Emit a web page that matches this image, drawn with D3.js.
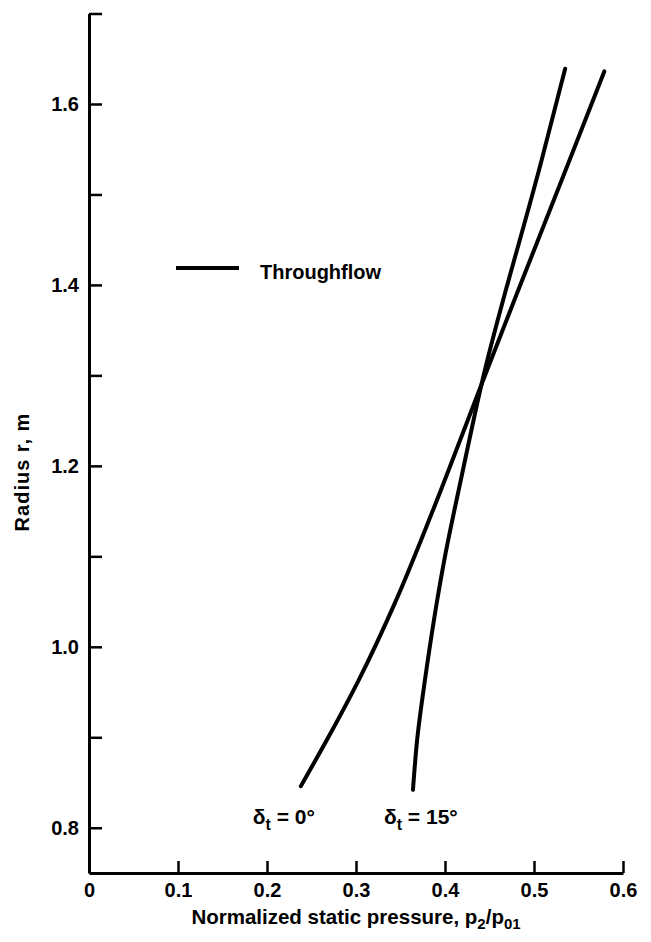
<!DOCTYPE html>
<html>
<head>
<meta charset="utf-8">
<script src="https://cdn.jsdelivr.net/npm/d3@7"></script>
<style>
  body { margin: 0; background: #fff; }
  svg text { font-family: "Liberation Sans", Arial, sans-serif; font-weight: bold; fill: #000; }
</style>
</head>
<body>
<div class="chartContainer"></div>
<script>
// pressure ratio p2/p01 vs radius r (m)
const throughflowX = [0.238, 0.2689, 0.3032, 0.3444, 0.3861, 0.441, 0.4806, 0.540, 0.579];
const throughflowR = [0.846, 0.900, 0.9635, 1.050, 1.150, 1.290, 1.390, 1.538, 1.636];

const lean15X = [0.364, 0.369, 0.3775, 0.400, 0.419, 0.441, 0.5086, 0.535];
const lean15R = [0.842, 0.900, 0.9635, 1.100, 1.190, 1.290, 1.538, 1.639];

const xTicks = [0, 0.1, 0.2, 0.3, 0.4, 0.5, 0.6];
const yTicks = [0.8, 0.9, 1.0, 1.1, 1.2, 1.3, 1.4, 1.5, 1.6, 1.7];
const yLabelled = [0.8, 1.0, 1.2, 1.4, 1.6];

window.addEventListener("load", () => {
  drawChart();
});

function drawChart() {
  const W = 651, H = 942;
  const margin = { top: 13.5, right: 28, bottom: 69, left: 89 };
  const width = W - margin.left - margin.right,
    height = H - margin.top - margin.bottom;

  const x = d3.scaleLinear().domain([0, 0.6]).range([0, width]);
  const y = d3.scaleLinear().domain([0.75, 1.7]).range([height, 0]);

  const svg = d3.select(".chartContainer")
    .append("svg")
    .attr("width", W)
    .attr("height", H)
    .append("g")
    .attr("transform", "translate(" + margin.left + "," + margin.top + ")");

  // axes, ticks point inward
  const xAxis = d3.axisBottom(x).tickValues(xTicks)
    .tickSizeInner(-12).tickSizeOuter(0).tickPadding(10)
    .tickFormat(d => d === 0 ? "0" : d3.format(".1f")(d));
  const yAxis = d3.axisLeft(y).tickValues(yTicks)
    .tickSizeInner(-13).tickSizeOuter(0).tickPadding(10)
    .tickFormat(d => yLabelled.some(v => Math.abs(v - d) < 1e-9) ? d3.format(".1f")(d) : "");

  const gx = svg.append("g")
    .attr("class", "x axis")
    .attr("transform", "translate(0," + height + ")")
    .call(xAxis);
  const gy = svg.append("g")
    .attr("class", "y axis")
    .call(yAxis);

  [gx, gy].forEach(g => {
    g.select(".domain").attr("stroke", "#000").attr("stroke-width", 3);
    g.selectAll(".tick line").attr("stroke", "#000").attr("stroke-width", 2.5);
    g.selectAll(".tick text").style("font-size", "20px").attr("fill", "#000");
  });
  gx.selectAll(".tick text").attr("dy", "0.72em");

  // curves
  const line = d3.line()
    .x(d => x(d[0]))
    .y(d => y(d[1]))
    .curve(d3.curveMonotoneY);

  const series = [
    d3.zip(throughflowX, throughflowR),
    d3.zip(lean15X, lean15R)
  ];

  svg.selectAll(".curve")
    .data(series)
    .enter()
    .append("path")
    .attr("class", "curve")
    .attr("d", line)
    .attr("fill", "none")
    .attr("stroke", "#000")
    .attr("stroke-width", 4)
    .attr("stroke-linecap", "round");

  // curve labels
  const labels = [
    { x: throughflowX[0], text: "= 0°", dx: -48 },
    { x: lean15X[0], text: "= 15°", dx: -29 }
  ];
  labels.forEach(l => {
    const t = svg.append("text")
      .attr("x", x(l.x) + l.dx)
      .attr("y", 810)
      .style("font-size", "21px");
    t.append("tspan").text("δ");
    t.append("tspan").attr("dy", 6).style("font-size", "16px").text("t");
    t.append("tspan").attr("dy", -6).text(" " + l.text);
  });

  // legend
  svg.append("line")
    .attr("x1", 176 - margin.left).attr("x2", 239 - margin.left)
    .attr("y1", 268 - margin.top).attr("y2", 268 - margin.top)
    .attr("stroke", "#000").attr("stroke-width", 4);
  svg.append("text")
    .attr("x", 260 - margin.left)
    .attr("y", 279 - margin.top)
    .style("font-size", "20px")
    .text("Throughflow");

  // axis titles
  const xt = svg.append("text")
    .attr("x", width / 2)
    .attr("y", height + 51)
    .attr("text-anchor", "middle")
    .style("font-size", "20.5px");
  xt.append("tspan").text("Normalized static pressure, p");
  xt.append("tspan").attr("dy", 5).style("font-size", "15px").text("2");
  xt.append("tspan").attr("dy", -5).text("/p");
  xt.append("tspan").attr("dy", 5).style("font-size", "15px").text("01");

  svg.append("text")
    .attr("transform", "translate(" + (29 - margin.left) + "," + (472 - margin.top) + ") rotate(-90)")
    .attr("text-anchor", "middle")
    .style("font-size", "20px")
    .style("letter-spacing", "1px")
    .text("Radius  r, m");
}
</script>
</body>
</html>
